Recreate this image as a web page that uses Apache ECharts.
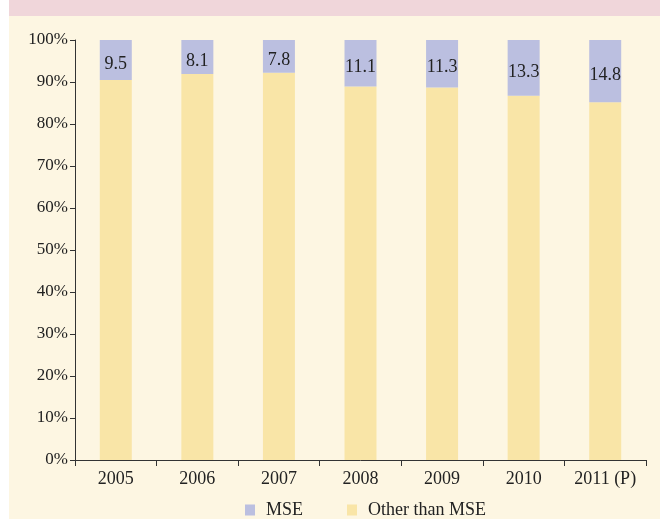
<!DOCTYPE html>
<html>
<head>
<meta charset="utf-8">
<script src="https://cdn.jsdelivr.net/npm/echarts@6/dist/echarts.min.js"></script>
<style>
html,body{margin:0;padding:0;background:#fff;}
#c{width:660px;height:519px;}
</style>
</head>
<body>
<div id="c"></div>
<script>
var categories = ['2005','2006','2007','2008','2009','2010','2011 (P)'];
var mseValues = [9.5, 8.1, 7.8, 11.1, 11.3, 13.3, 14.8];
var otherValues = [90.5, 91.9, 92.2, 88.9, 88.7, 86.7, 85.2];
var seriesNames = ['MSE', 'Other than MSE'];

var font = 'Liberation Serif';
var chart = echarts.init(document.getElementById('c'), null, {renderer:'canvas'});
chart.setOption({
  backgroundColor: '#ffffff',
  animation: false,
  graphic: [
    {type:'rect', shape:{x:9, y:0, width:651, height:519}, style:{fill:'#fdf6e2'}, z:-10, silent:true},
    {type:'rect', shape:{x:9, y:0, width:651, height:16}, style:{fill:'#f0d6da'}, z:-9, silent:true}
  ],
  legend: {
    left: 245, top: 501, padding: 0,
    itemWidth: 10, itemHeight: 11, itemGap: 44,
    icon: 'rect',
    data: seriesNames,
    textStyle: {fontFamily: font, fontSize: 18, color:'#222', padding:[0,0,0,6]}
  },
  grid: {left: 75, right: 14, top: 40, bottom: 59},
  xAxis: {
    type: 'category',
    data: categories,
    axisLine: {lineStyle:{color:'#333', width:1}},
    axisTick: {show:true, length:6, lineStyle:{color:'#333'}},
    axisLabel: {fontFamily: font, fontSize: 18, color:'#222', margin: 10}
  },
  yAxis: {
    type: 'value', min: 0, max: 100, interval: 10,
    axisLine: {show:true, lineStyle:{color:'#333', width:1}},
    axisTick: {show:true, length:5, lineStyle:{color:'#333'}},
    splitLine: {show:false},
    axisLabel: {formatter:'{value}%', fontFamily: font, fontSize: 17, color:'#222', margin: 7}
  },
  series: [
    {
      name: seriesNames[1], type:'bar', stack:'s', barWidth: 32,
      data: otherValues,
      itemStyle: {color:'#f9e5a7'}
    },
    {
      name: seriesNames[0], type:'bar', stack:'s', barWidth: 32,
      data: mseValues,
      itemStyle: {color:'#bbbfe0'},
      label: {show:true, position:'inside', offset:[0,4], fontFamily: font, fontSize: 18, color:'#222',
        formatter: function(p){ return p.value.toFixed(1); }}
    }
  ]
});
</script>
</body>
</html>
